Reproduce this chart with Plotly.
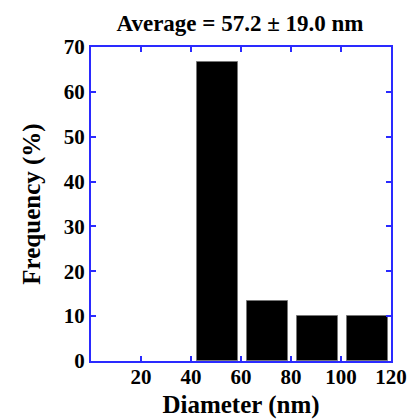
import plotly.graph_objects as go

bin_centers = [50.5, 70.5, 90.5, 110.5]
frequency = [66.7, 13.3, 10.0, 10.0]
x_ticks = [20, 40, 60, 80, 100, 120]
y_ticks = [0, 10, 20, 30, 40, 50, 60, 70]

fig = go.Figure()
fig.add_trace(go.Bar(
    x=bin_centers, y=frequency, width=16.5,
    marker=dict(color="black", line=dict(color="#777777", width=1)),
))

font_family = "Liberation Serif"
axis_common = dict(
    showline=True, linecolor="#2a2aff", linewidth=2, mirror="ticks",
    ticks="inside", tickcolor="#2a2aff", tickwidth=2, ticklen=5,
    showgrid=False, zeroline=False, automargin=False, ticklabeloverflow="allow",
    tickfont=dict(family=font_family, size=21, color="black", weight="bold"),
)
fig.update_xaxes(range=[0, 120], tickvals=x_ticks, **axis_common, ticklabelstandoff=-4,
                 title=dict(text="<b>Diameter (nm)</b>", standoff=10,
                            font=dict(family=font_family, size=25, color="black")))
fig.update_yaxes(range=[0, 70], tickvals=y_ticks, **axis_common,
                 title=dict(text="<b>Frequency (%)</b>", standoff=16,
                            font=dict(family=font_family, size=25, color="black")))

W, H = 410, 419
fig.update_layout(
    template="none",
    width=W, height=H,
    margin=dict(l=91, r=19, t=47, b=58),
    paper_bgcolor="white", plot_bgcolor="white",
    showlegend=False, bargap=0,
    title=dict(text="<b>Average = 57.2 ± 19.0 nm</b>", x=240 / W, xanchor="center",
               y=1 - 23 / H, yanchor="middle",
               font=dict(family=font_family, size=23, color="black")),
)
fig.write_html("out.html", config={"displayModeBar": False},
               post_script="document.body.style.margin='0';document.body.style.overflow='hidden';")
